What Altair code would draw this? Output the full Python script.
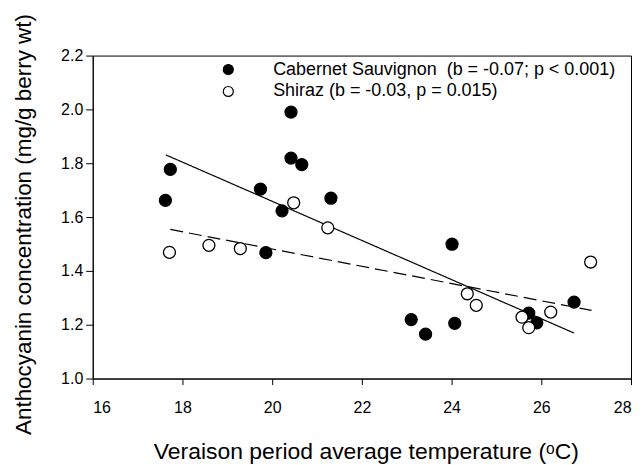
import altair as alt
import pandas as pd

# Cabernet Sauvignon (filled)
cab_x = [17.62, 17.73, 19.74, 19.86, 20.22, 20.42, 20.42, 20.66, 21.31, 23.10, 23.42, 24.01, 24.07, 25.72, 25.90, 26.73]
cab_y = [1.662, 1.777, 1.704, 1.468, 1.623, 1.990, 1.819, 1.795, 1.670, 1.219, 1.165, 1.499, 1.205, 1.243, 1.207, 1.284]
# Shiraz (open)
shz_x = [17.71, 18.59, 19.29, 20.48, 21.24, 24.35, 24.55, 25.57, 25.72, 26.21, 27.10]
shz_y = [1.469, 1.495, 1.483, 1.653, 1.560, 1.315, 1.272, 1.228, 1.189, 1.247, 1.433]

# regression line end points
cab_fit_x = [17.63, 26.73]
cab_fit_y = [1.831, 1.169]
shz_fit_x = [17.73, 27.12]
shz_fit_y = [1.554, 1.253]

CAB = "Cabernet Sauvignon\u00a0 (b = -0.07; p < 0.001)"
SHZ = "Shiraz (b = -0.03, p = 0.015)"
series = [CAB, SHZ]

pts = pd.DataFrame(
    {"x": cab_x + shz_x, "y": cab_y + shz_y,
     "s": [CAB] * len(cab_x) + [SHZ] * len(shz_x)}
)
fits = pd.DataFrame(
    {"x": cab_fit_x + shz_fit_x, "y": cab_fit_y + shz_fit_y,
     "fit": ["cab"] * 2 + ["shz"] * 2}
)

xs = alt.Scale(domain=[16, 28], nice=False, zero=False)
ys = alt.Scale(domain=[1.0, 2.2], nice=False, zero=False)

xax = alt.Axis(values=[16, 18, 20, 22, 24, 26, 28], format="d", tickSize=6,
               labelPadding=15, title="Veraison period average temperature (\u1d52C)",
               titleX=274, titleY=80, titleBaseline="alphabetic", titleAlign="center",
               titleFontSize=23)
yax = alt.Axis(values=[1.0, 1.2, 1.4, 1.6, 1.8, 2.0, 2.2], format=".1f", tickSize=7,
               labelPadding=3, title="Anthocyanin concentration (mg/g berry wt)",
               titleX=-62, titleY=169, titleBaseline="alphabetic", titleAlign="center",
               titleAngle=-90, titleFontSize=22.5)

lines = alt.Chart(fits).mark_line(color="black", strokeWidth=1.2).encode(
    x=alt.X("x:Q", scale=xs, axis=xax),
    y=alt.Y("y:Q", scale=ys, axis=yax),
    detail="fit:N",
    strokeDash=alt.StrokeDash("fit:N", scale=alt.Scale(domain=["cab", "shz"], range=[[1, 0], [13, 6]]), legend=None),
)

points = alt.Chart(pts).mark_point(shape="circle", size=144, stroke="black",
                                   strokeWidth=1.3, opacity=1).encode(
    x=alt.X("x:Q", scale=xs),
    y=alt.Y("y:Q", scale=ys),
    fill=alt.Fill("s:N", scale=alt.Scale(domain=series, range=["black", "white"]),
                  legend=alt.Legend(title=None, orient="none", legendX=127, legendY=5,
                                    symbolType="circle", symbolSize=100,
                                    symbolStrokeColor="black", symbolStrokeWidth=1.2,
                                    symbolOpacity=1,
                                    labelFontSize=18, labelOffset=36, rowPadding=4,
                                    labelFont="Liberation Sans", labelColor="black",
                                    padding=0, labelLimit=0)),
)

chart = alt.layer(lines, points).properties(
    width=540, height=324,
    autosize=alt.AutoSizeParams(type="none"),
    padding={"left": 85, "top": 47, "right": 5, "bottom": 85},
).configure_view(stroke="black", strokeWidth=1).configure_axis(
    domainColor="black", tickColor="black", labelColor="black", titleColor="black",
    labelFont="Liberation Sans", titleFont="Liberation Sans",
    labelFontSize=16, titleFontWeight="normal", grid=False,
    domainWidth=1, tickWidth=1,
)

chart.save("out.html", embed_options={"renderer": "svg", "actions": False})
